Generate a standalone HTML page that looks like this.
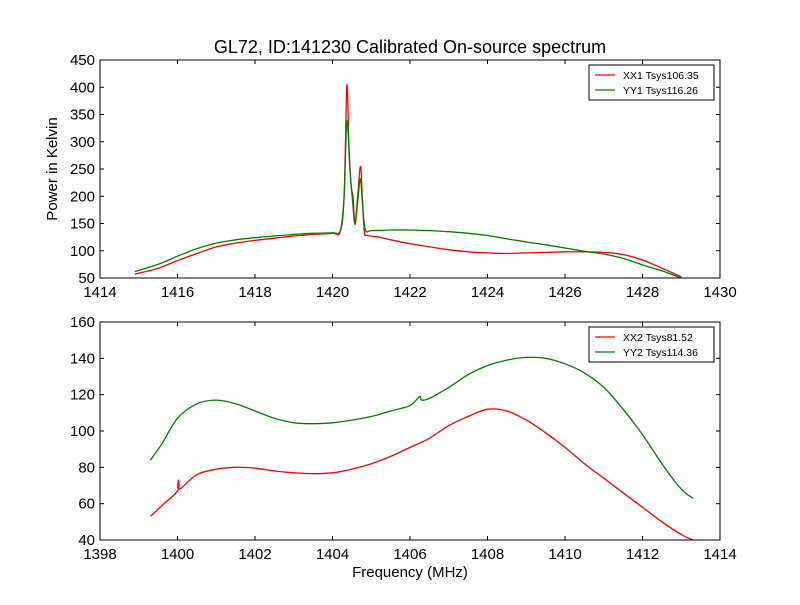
<!DOCTYPE html>
<html><head><meta charset="utf-8"><style>
body{margin:0;background:#fff}
svg{font-family:"Liberation Sans","DejaVu Sans",sans-serif}
</style></head><body>
<svg id="c" width="800" height="600"></svg>
<script>
const topX=[1414.9,1415.5,1416,1416.5,1417,1417.5,1418,1418.5,1419,1419.5,1420,1420.2,1420.3,1420.37,1420.42,1420.48,1420.53,1420.58,1420.65,1420.72,1420.77,1420.82,1420.9,1421.2,1421.5,1422,1422.5,1423,1423.5,1424,1424.5,1425,1425.5,1426,1426.5,1427,1427.5,1428,1428.5,1429];
const topXX1=[57,68,82,95,107,114,119,123,127,130,132,135,200,403,300,220,200,150,200,255,200,135,128,125,120,113,107,102,98,96,95,96,97,98,98,97,93,83,68,52];
const topGX=[1414.9,1415.5,1416,1416.5,1417,1417.5,1418,1418.5,1419,1419.5,1420,1420.2,1420.3,1420.37,1420.45,1420.52,1420.58,1420.65,1420.72,1420.78,1420.85,1421,1421.5,1422,1422.5,1423,1423.5,1424,1424.5,1425,1425.5,1426,1426.5,1427,1427.5,1428,1428.5,1429];
const topYY1=[62,75,90,104,114,120,124,127,130,132,133,137,200,338,250,190,148,190,232,180,138,137,138,138,137,135,132,128,122,116,111,105,99,94,86,74,63,50];
const botRX=[1399.3,1399.6,1400,1400.02,1400.05,1400.5,1401,1401.5,1402,1402.5,1403,1403.5,1404,1404.5,1405,1405.5,1406,1406.5,1407,1407.5,1408,1408.5,1409,1409.5,1410,1410.5,1411,1411.5,1412,1412.5,1413,1413.3];
const botXX2=[53,59,67,73,68,76,79,80,79.5,78,77,76.5,77,79,82,86,91,96,103,108,112,111,106,99,91,82,74,66,58,50,43,40];
const botGX=[1399.3,1399.6,1400,1400.5,1401,1401.5,1402,1402.5,1403,1403.5,1404,1404.5,1405,1405.5,1406,1406.25,1406.3,1406.5,1407,1407.5,1408,1408.5,1409,1409.5,1410,1410.5,1411,1411.5,1412,1412.5,1413,1413.3];
const botYY2=[84,93,107,115,117,115,111,107,104.5,104,104.5,106,108,111,114,119,117,118,124,131,136,139,140.5,140,137,132,124,112,98,82,68,63];
const topXTicks=[1414,1416,1418,1420,1422,1424,1426,1428,1430];
const topYTicks=[50,100,150,200,250,300,350,400,450];
const botXTicks=[1398,1400,1402,1404,1406,1408,1410,1412,1414];
const botYTicks=[40,60,80,100,120,140,160];

const svg=document.getElementById('c');const NS='http://www.w3.org/2000/svg';
function mk(t,a,txt){const e=document.createElementNS(NS,t);for(const k in a)e.setAttribute(k,a[k]);if(txt!=null)e.textContent=txt;svg.appendChild(e);return e;}
function smooth(P){
 let d='M'+P[0][0].toFixed(1)+','+P[0][1].toFixed(1);
 for(let i=0;i<P.length-1;i++){
  const p0=P[Math.max(0,i-1)],p1=P[i],p2=P[i+1],p3=P[Math.min(P.length-1,i+2)];
  const t=1/6;
  const c1=[p1[0]+(p2[0]-p0[0])*t,p1[1]+(p2[1]-p0[1])*t];
  const c2=[p2[0]-(p3[0]-p1[0])*t,p2[1]-(p3[1]-p1[1])*t];
  d+='C'+c1[0].toFixed(1)+','+c1[1].toFixed(1)+' '+c2[0].toFixed(1)+','+c2[1].toFixed(1)+' '+p2[0].toFixed(1)+','+p2[1].toFixed(1);
 }
 return d;
}
function panel(p){
 const sx=v=>p.x0+(v-p.xmin)/(p.xmax-p.xmin)*(p.x1-p.x0);
 const sy=v=>p.y1-(v-p.ymin)/(p.ymax-p.ymin)*(p.y1-p.y0);
 p.series.forEach(s=>{
  const d=smooth(s.xs.map((x,i)=>[sx(x),sy(s.ys[i])]));
  const l=mk('path',{d:d,fill:'none',stroke:s.color,'stroke-width':1.3});
  
  
 });
 const f=mk('rect',{x:p.x0,y:p.y0,width:p.x1-p.x0,height:p.y1-p.y0,fill:'none',stroke:'#000'});
 
 
 p.xt.forEach(v=>{const x=sx(v);
  mk('line',{x1:x,x2:x,y1:p.y1,y2:p.y1-4,stroke:'#000'});mk('line',{x1:x,x2:x,y1:p.y0,y2:p.y0+4,stroke:'#000'});
  const t=mk('text',{x:x,y:p.y1+19,'text-anchor':'middle','font-size':15},v);
  
  
 });
 p.yt.forEach(v=>{const y=sy(v);
  mk('line',{x1:p.x0,x2:p.x0+4,y1:y,y2:y,stroke:'#000'});mk('line',{x1:p.x1,x2:p.x1-4,y1:y,y2:y,stroke:'#000'});
  const t=mk('text',{x:p.x0-5,y:y+5,'text-anchor':'end','font-size':15},v);
  
  
 });
 const lg=mk('rect',{x:p.lx,y:p.ly,width:p.lw,height:35,fill:'#fff',stroke:'#000'});
 
 
 p.series.forEach((s,i)=>{const yy=p.ly+10+i*15;
  mk('line',{x1:p.lx+6,x2:p.lx+26,y1:yy,y2:yy,stroke:s.color,'stroke-width':1.2});
  const t=mk('text',{x:p.lx+34,y:yy+4,'font-size':10.5},s.label);
  
  
 });
}
panel({name:'top-panel',x0:100,x1:720,y0:60,y1:278,xmin:1414,xmax:1430,ymin:50,ymax:450,xt:topXTicks,yt:topYTicks,lx:589,ly:65,lw:125,
 series:[{name:'xx1',xs:topX,ys:topXX1,color:'#ff0000',label:'XX1 Tsys106.35'},{name:'yy1',xs:topGX,ys:topYY1,color:'#008000',label:'YY1 Tsys116.26'}]});
panel({name:'bottom-panel',x0:100,x1:720,y0:322,y1:540,xmin:1398,xmax:1414,ymin:40,ymax:160,xt:botXTicks,yt:botYTicks,lx:589,ly:327,lw:125,
 series:[{name:'xx2',xs:botRX,ys:botXX2,color:'#ff0000',label:'XX2 Tsys81.52'},{name:'yy2',xs:botGX,ys:botYY2,color:'#008000',label:'YY2 Tsys114.36'}]});
const ti=mk('text',{x:410,y:53,'text-anchor':'middle','font-size':18},'GL72, ID:141230 Calibrated On-source spectrum');


const yl=mk('text',{x:0,y:0,'text-anchor':'middle','font-size':15,transform:'translate(57,169) rotate(-90)'},'Power in Kelvin');


const xl=mk('text',{x:410,y:577,'text-anchor':'middle','font-size':15},'Frequency (MHz)');


</script>
</body></html>
